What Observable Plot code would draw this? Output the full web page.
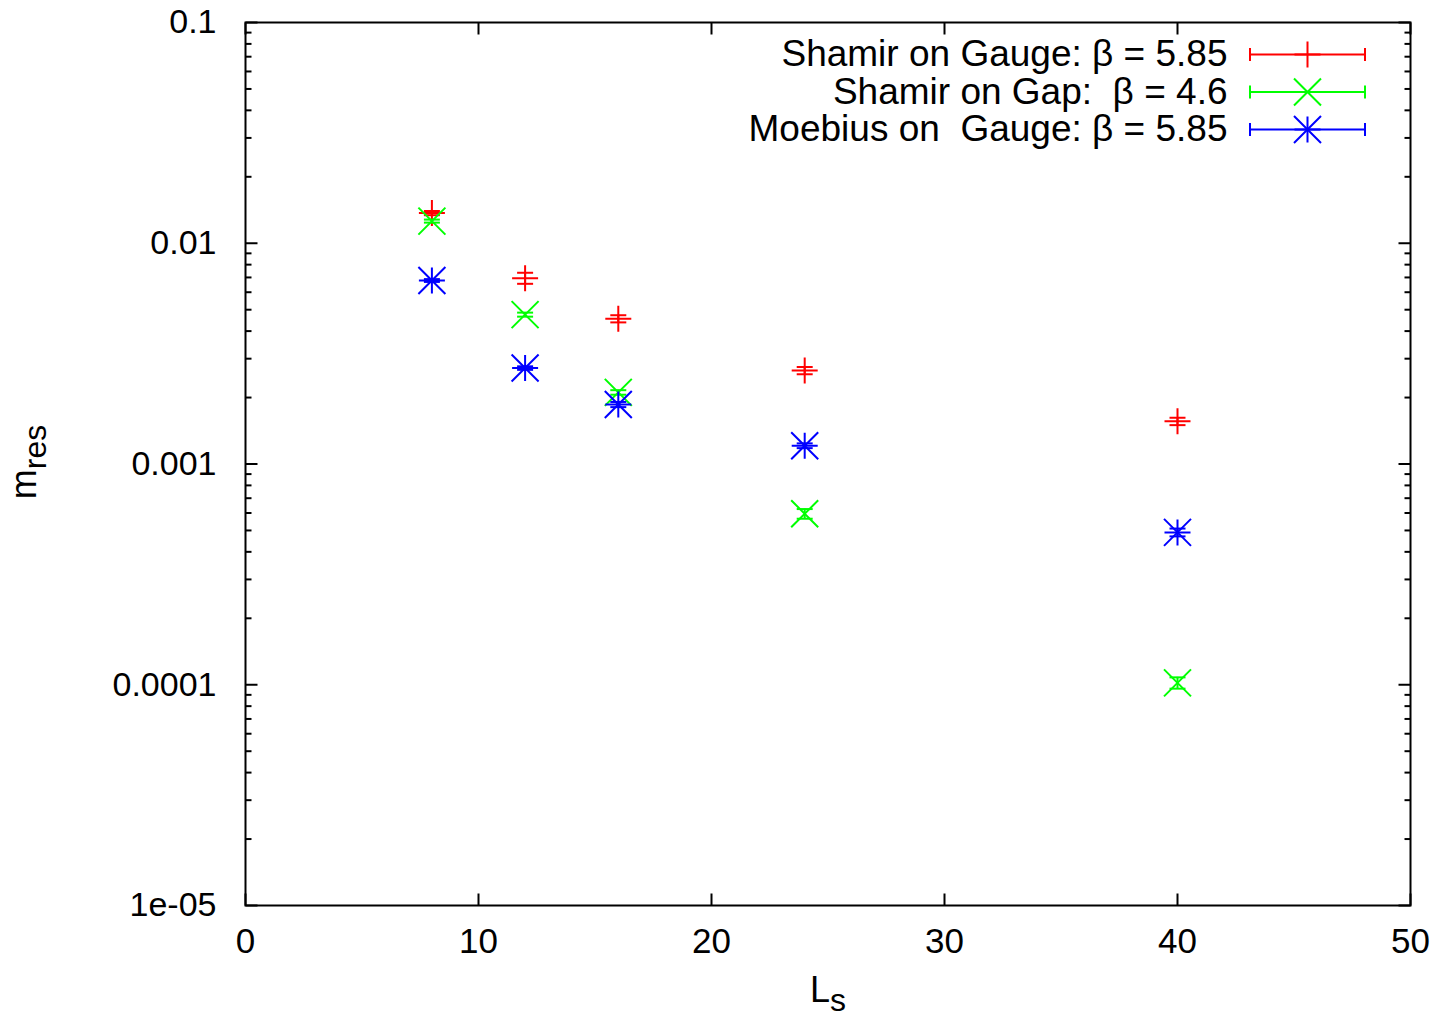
<!DOCTYPE html>
<html><head><meta charset="utf-8">
<script src="https://cdn.jsdelivr.net/npm/d3@7"></script>
<script src="https://cdn.jsdelivr.net/npm/@observablehq/plot@0.6"></script>
<style>
body{margin:0;background:#fff;}
#chart{position:relative;width:1439px;height:1019px;}
</style>
</head><body><div id="chart"></div>
<script>
// ---- data ----
const Ls = [8, 12, 16, 24, 40];
const seriesNames = ["Shamir on Gauge: β = 5.85", "Shamir on Gap:  β = 4.6", "Moebius on  Gauge: β = 5.85"];
const seriesColors = ["#ff0000", "#00ff00", "#0000ff"];
const seriesSymbols = ["plus", "times", "star"];
const shamirGauge    = [0.0137, 0.00695, 0.00455, 0.00265, 0.00156];
const shamirGaugeErr = [0.0003, 0.0004, 0.00017, 0.0001, 0.00006];
const shamirGap      = [0.0126, 0.00475, 0.00211, 0.000595, 0.000102];
const shamirGapErr   = [0.0002, 0.0001, 0.00005, 0.00003, 0.000006];
const moebius        = [0.00678, 0.00272, 0.00186, 0.00121, 0.00049];
const moebiusErr     = [0.0001, 0.00005, 0.00005, 0.00003, 0.00002];
const xTicks = [0, 10, 20, 30, 40, 50];
const yTicks = [1e-5, 1e-4, 1e-3, 1e-2, 1e-1];
const yTickLabels = ["1e-05", "0.0001", "0.001", "0.01", "0.1"];
const yMinorMultipliers = [2, 3, 4, 5, 6, 7, 8, 9];

const seriesValues = [shamirGauge, shamirGap, moebius];
const seriesErrors = [shamirGaugeErr, shamirGapErr, moebiusErr];

// ---- symbols ----
const FONT = "'Liberation Sans', Arial, Helvetica, sans-serif";
const plusSym = {draw(c){const r=13; c.moveTo(-r,0); c.lineTo(r,0); c.moveTo(0,-r); c.lineTo(0,r);}};
const timesSym = {draw(c){const r=13.5; c.moveTo(-r,-r); c.lineTo(r,r); c.moveTo(-r,r); c.lineTo(r,-r);}};
const capSym = {draw(c){const r=8; c.moveTo(-r,0); c.lineTo(r,0);}};
const legendLineSym = {draw(c){const w=57.5, h=6.5; c.moveTo(-w,0); c.lineTo(w,0); c.moveTo(-w,-h); c.lineTo(-w,h); c.moveTo(w,-h); c.lineTo(w,h);}};
const tickSym = (dx, dy) => ({draw(c){c.moveTo(0,0); c.lineTo(dx,dy);}});
const MAJ = 12, MIN = 6;

const yMinor = [];
for (const d of yTicks.slice(0, -1)) for (const k of yMinorMultipliers) yMinor.push(d * k);

const marks = [];

// ticks (inward, mirrored)
marks.push(Plot.dot(yTicks, {y: d => d, frameAnchor: "left", symbol: tickSym(MAJ, 0), stroke: "black", strokeWidth: 2, fill: "none"}));
marks.push(Plot.dot(yTicks, {y: d => d, frameAnchor: "right", symbol: tickSym(-MAJ, 0), stroke: "black", strokeWidth: 2, fill: "none"}));
marks.push(Plot.dot(yMinor, {y: d => d, frameAnchor: "left", symbol: tickSym(MIN, 0), stroke: "black", strokeWidth: 2, fill: "none"}));
marks.push(Plot.dot(yMinor, {y: d => d, frameAnchor: "right", symbol: tickSym(-MIN, 0), stroke: "black", strokeWidth: 2, fill: "none"}));
marks.push(Plot.dot(xTicks, {x: d => d, frameAnchor: "bottom", symbol: tickSym(0, -MAJ), stroke: "black", strokeWidth: 2, fill: "none"}));
marks.push(Plot.dot(xTicks, {x: d => d, frameAnchor: "top", symbol: tickSym(0, MAJ), stroke: "black", strokeWidth: 2, fill: "none"}));

// axis labels
marks.push(Plot.axisY({ticks: yTicks, tickSize: 0, tickPadding: 29, fontSize: 34, label: null,
  tickFormat: d => yTickLabels[yTicks.indexOf(d)]}));
marks.push(Plot.axisX({ticks: xTicks, tickSize: 0, tickPadding: 23, fontSize: 35, label: null,
  tickFormat: d => String(d)}));

// data
seriesNames.forEach((name, i) => {
  const rows = Ls.map((L, j) => ({L, v: seriesValues[i][j], e: seriesErrors[i][j]}));
  const color = seriesColors[i];
  marks.push(Plot.ruleX(rows, {x: "L", y1: d => d.v - d.e, y2: d => d.v + d.e, stroke: color, strokeWidth: 2}));
  marks.push(Plot.dot(rows, {x: "L", y: d => d.v - d.e, symbol: capSym, stroke: color, strokeWidth: 2, fill: "none"}));
  marks.push(Plot.dot(rows, {x: "L", y: d => d.v + d.e, symbol: capSym, stroke: color, strokeWidth: 2, fill: "none"}));
  const s = seriesSymbols[i];
  if (s === "plus" || s === "star") marks.push(Plot.dot(rows, {x: "L", y: "v", symbol: plusSym, stroke: color, strokeWidth: 2, fill: "none"}));
  if (s === "times" || s === "star") marks.push(Plot.dot(rows, {x: "L", y: "v", symbol: timesSym, stroke: color, strokeWidth: 2, fill: "none"}));

  // legend
  const dy = 32 + i * 37.5;
  marks.push(Plot.text([name], {frameAnchor: "top-right", dx: -183, dy, textAnchor: "end", lineAnchor: "middle", fontSize: 37, fill: "black", fontFamily: FONT}));
  marks.push(Plot.dot([name], {frameAnchor: "top-right", dx: -103, dy, symbol: legendLineSym, stroke: color, strokeWidth: 2, fill: "none"}));
  if (s === "plus" || s === "star") marks.push(Plot.dot([name], {frameAnchor: "top-right", dx: -103, dy, symbol: plusSym, stroke: color, strokeWidth: 2, fill: "none"}));
  if (s === "times" || s === "star") marks.push(Plot.dot([name], {frameAnchor: "top-right", dx: -103, dy, symbol: timesSym, stroke: color, strokeWidth: 2, fill: "none"}));
});

marks.push(Plot.frame({stroke: "black", strokeWidth: 2}));

const chart = Plot.plot({
  width: 1439, height: 1019,
  marginLeft: 245, marginRight: 29, marginTop: 22, marginBottom: 114,
  style: {fontFamily: FONT, fontSize: "33px", background: "#fff", color: "black"},
  x: {domain: [0, 50], label: null},
  y: {type: "log", domain: [1e-5, 0.1], label: null},
  marks
});

const svg = d3.select(chart);
// y-axis title m_res
const yt = svg.append("text").attr("transform", "translate(36,462) rotate(-90)")
  .attr("text-anchor", "middle").attr("font-family", FONT).attr("fill", "black");
yt.append("tspan").attr("font-size", 36).text("m");
yt.append("tspan").attr("font-size", 32).attr("dy", 10).text("res");
// x-axis title L_s
const xt = svg.append("text").attr("transform", "translate(828,1002)")
  .attr("text-anchor", "middle").attr("font-family", FONT).attr("fill", "black");
xt.append("tspan").attr("font-size", 36).text("L");
xt.append("tspan").attr("font-size", 32).attr("dy", 9).text("s");

document.getElementById("chart").appendChild(chart);
</script>
</body></html>
